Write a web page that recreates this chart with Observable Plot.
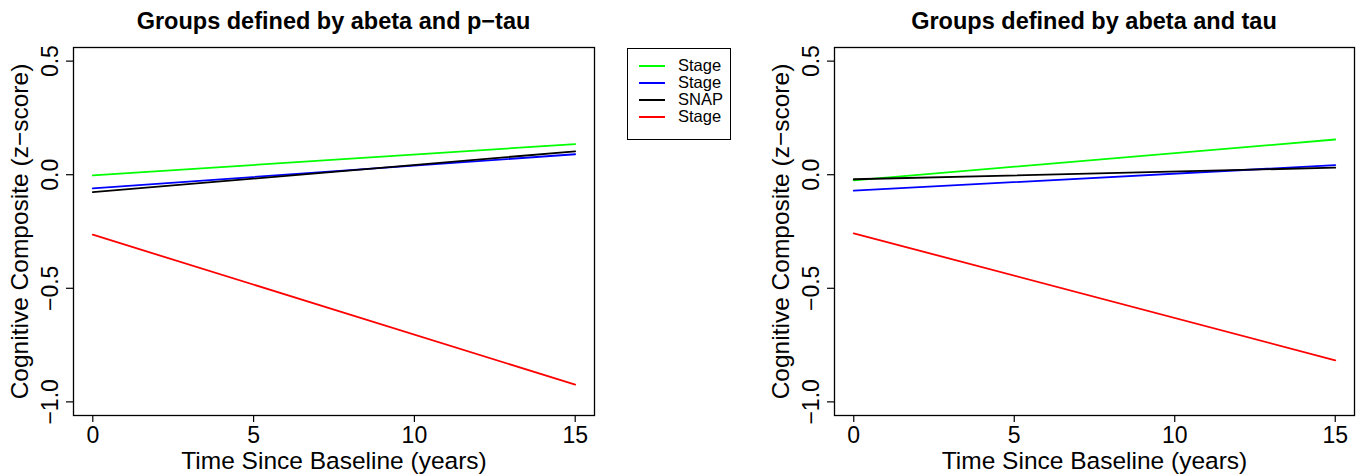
<!DOCTYPE html>
<html><head><meta charset="utf-8">
<script src="https://cdn.jsdelivr.net/npm/d3@7"></script>
<script src="https://cdn.jsdelivr.net/npm/@observablehq/plot@0.6"></script>
<style>
body{margin:0;background:#fff;font-family:"Liberation Sans",Arial,sans-serif;}
#wrap{position:relative;width:1363px;height:476px;overflow:hidden;background:#fff}
.title{position:absolute;top:8px;font-weight:bold;font-size:23.5px;line-height:26px;text-align:center;color:#000;white-space:nowrap}
.panel{position:absolute;top:36px}
#legend{position:absolute;left:627px;top:48px;width:102px;height:82px;border:1.3px solid #000;box-sizing:content-box;padding-top:8px}
.lrow{height:17px;display:flex;align-items:center;font-size:16.5px;line-height:17px}
.lsw{display:inline-block;width:26px;height:0;border-top:2px solid;margin-left:11px;margin-right:13px}
</style></head><body><div id="wrap"></div>
<script>
const years = [0, 15];
const groupKeys = ["g1", "g2", "snap", "g3"];
const legendLabels = ["Stage", "Stage", "SNAP", "Stage"];
const groupColors = ["#00ff00", "#0000ff", "#000000", "#ff0000"];
const ptauStart = [-0.003, -0.060, -0.077, -0.264];
const ptauEnd   = [ 0.135,  0.090,  0.103, -0.924];
const tauStart  = [-0.025, -0.070, -0.020, -0.258];
const tauEnd    = [ 0.155,  0.042,  0.031, -0.817];
const xTicks = [0, 5, 10, 15];
const yTicks = [-1, -0.5, 0, 0.5];
const titles = ["Groups defined by abeta and p\u2212tau", "Groups defined by abeta and tau"];
const xLabel = "Time Since Baseline (years)";
const yLabel = "Cognitive Composite (z\u2212score)";

function rowsOf(starts, ends) {
  const rows = [];
  groupKeys.forEach((g, i) => {
    rows.push({group: g, year: years[0], value: starts[i]});
    rows.push({group: g, year: years[1], value: ends[i]});
  });
  return rows;
}

function panel(rows, width, ml, mr) {
  return Plot.plot({
    width, height: 440, marginLeft: ml, marginRight: mr, marginTop: 11, marginBottom: 61,
    style: {fontFamily: "Liberation Sans, Arial, sans-serif", fontSize: "23px", color: "#000", background: "transparent", overflow: "visible"},
    x: {domain: [-0.6, 15.6]},
    y: {domain: [-1.06, 0.56]},
    color: {domain: groupKeys, range: groupColors},
    marks: [
      Plot.axisX({ticks: xTicks, tickSize: 7, tickPadding: 4, tickFormat: d => String(d),
        label: null, fontSize: 23, stroke: "#000", strokeWidth: 1.2}),
      Plot.axisX({ticks: xTicks, tickSize: 0, tickFormat: () => "",
        label: xLabel, labelArrow: "none", labelAnchor: "center", labelOffset: 53, fontSize: 24.5}),
      Plot.axisY({ticks: yTicks, tickSize: 7, tickPadding: 9, tickRotate: -90, tickFormat: d3.format(".1f"),
        label: null, fontSize: 23, stroke: "#000", strokeWidth: 1.2}),
      Plot.axisY({ticks: yTicks, tickSize: 0, tickFormat: () => "",
        label: yLabel, labelArrow: "none", labelAnchor: "center", labelOffset: 63, fontSize: 24.5}),
      Plot.line(rows, {x: "year", y: "value", z: "group", stroke: "group", strokeWidth: 1.8}),
      Plot.frame({stroke: "#000", strokeWidth: 1.3})
    ]
  });
}

const wrap = document.getElementById("wrap");
const panels = [
  {rows: rowsOf(ptauStart, ptauEnd), left: 0, width: 620, ml: 73, mr: 26, boxL: 73, boxW: 521},
  {rows: rowsOf(tauStart, tauEnd), left: 760, width: 603, ml: 74, mr: 9, boxL: 834, boxW: 520}
];
panels.forEach((p, i) => {
  const t = document.createElement("div");
  t.className = "title";
  t.style.left = p.boxL + "px";
  t.style.width = p.boxW + "px";
  t.textContent = titles[i];
  wrap.appendChild(t);
  const d = document.createElement("div");
  d.className = "panel";
  d.style.left = p.left + "px";
  d.appendChild(panel(p.rows, p.width, p.ml, p.mr));
  wrap.appendChild(d);
});

const lg = document.createElement("div");
lg.id = "legend";
legendLabels.forEach((lab, i) => {
  const r = document.createElement("div");
  r.className = "lrow";
  const sw = document.createElement("span");
  sw.className = "lsw";
  sw.style.borderTopColor = groupColors[i];
  r.appendChild(sw);
  r.appendChild(document.createTextNode(lab));
  lg.appendChild(r);
});
wrap.appendChild(lg);
</script></body></html>
